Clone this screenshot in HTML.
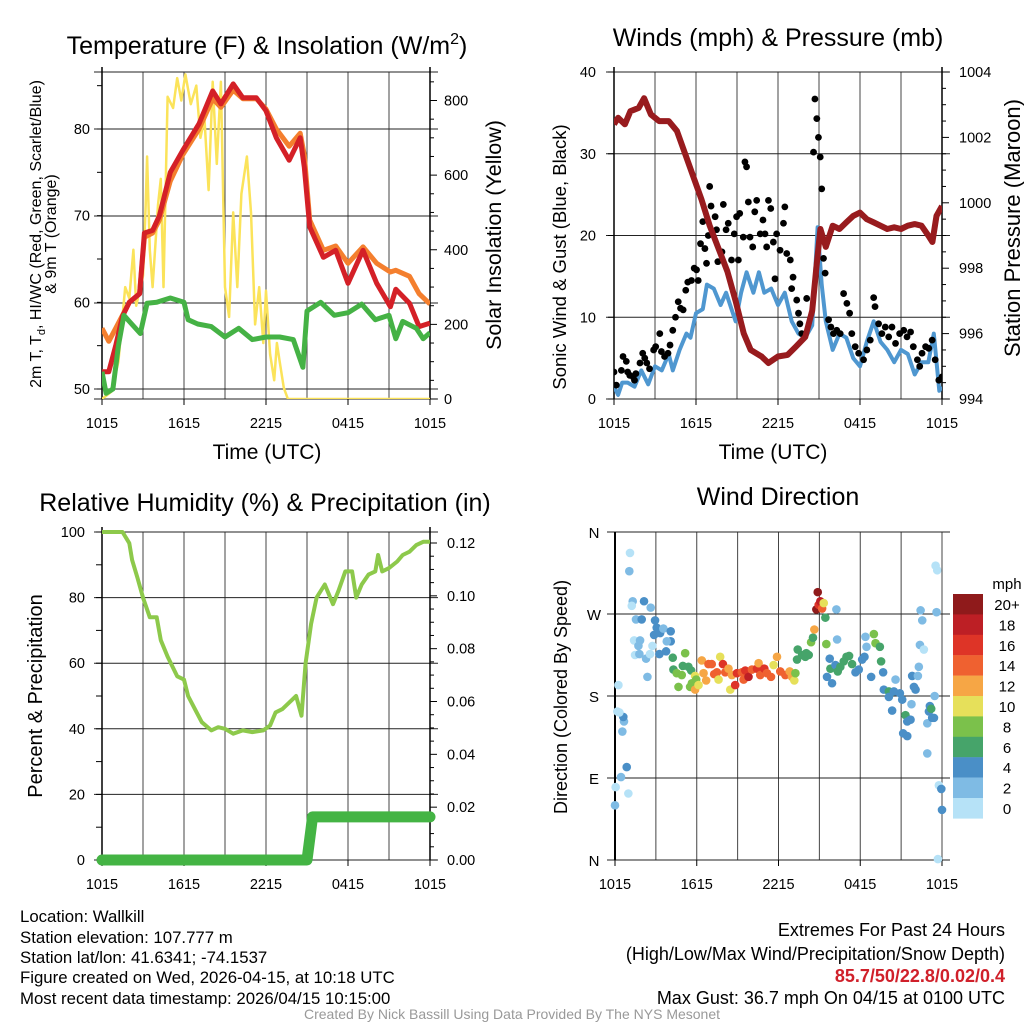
<!DOCTYPE html>
<html><head><meta charset="utf-8"><style>
body{margin:0;background:#fff;}
svg text{font-family:"Liberation Sans",Arial,sans-serif;fill:#000;}
</style></head><body>
<svg id="svg" width="1024" height="1024" viewBox="0 0 1024 1024" xmlns="http://www.w3.org/2000/svg">
<rect width="1024" height="1024" fill="#fff"/>
<g id="p1"></g>
<g id="p2"></g>
<g id="p3"></g>
<g id="p4"></g>
<text x="267" y="54" font-size="25" text-anchor="middle">Temperature (F) &amp; Insolation (W/m<tspan font-size="16" dy="-10">2</tspan><tspan dy="10">)</tspan></text>
<text x="778" y="46" font-size="25" text-anchor="middle">Winds (mph) &amp; Pressure (mb)</text>
<text x="265" y="511" font-size="25" text-anchor="middle">Relative Humidity (%) &amp; Precipitation (in)</text>
<text x="778" y="505" font-size="25" text-anchor="middle">Wind Direction</text>
<text x="267" y="459" font-size="21" text-anchor="middle">Time (UTC)</text>
<text x="773" y="459" font-size="21" text-anchor="middle">Time (UTC)</text>
<text transform="translate(41,234) rotate(-90)" font-size="16" text-anchor="middle">2m T, T<tspan font-size="11" dy="4">d</tspan><tspan dy="-4">, HI/WC (Red, Green, Scarlet/Blue)</tspan></text>
<text transform="translate(56,234) rotate(-90)" font-size="16" text-anchor="middle">&amp; 9m T (Orange)</text>
<text transform="translate(501,235) rotate(-90)" font-size="21.5" text-anchor="middle">Solar Insolation (Yellow)</text>
<text transform="translate(566,257) rotate(-90)" font-size="18.5" text-anchor="middle">Sonic Wind &amp; Gust (Blue, Black)</text>
<text transform="translate(1020,228) rotate(-90)" font-size="22" text-anchor="middle">Station Pressure (Maroon)</text>
<text transform="translate(42,696) rotate(-90)" font-size="20" text-anchor="middle">Percent &amp; Precipitation</text>
<text transform="translate(567,697) rotate(-90)" font-size="18" text-anchor="middle">Direction (Colored By Speed)</text>
<g font-size="16.8">
<text x="20" y="922">Location: Wallkill</text>
<text x="20" y="943">Station elevation: 107.777 m</text>
<text x="20" y="963">Station lat/lon: 41.6341; -74.1537</text>
<text x="20" y="983">Figure created on Wed, 2026-04-15, at 10:18 UTC</text>
<text x="20" y="1004">Most recent data timestamp: 2026/04/15 10:15:00</text>
</g>
<g font-size="18" text-anchor="end">
<text x="1005" y="936">Extremes For Past 24 Hours</text>
<text x="1005" y="960">(High/Low/Max Wind/Precipitation/Snow Depth)</text>
<text x="1005" y="982" font-weight="bold" style="fill:#d0202a">85.7/50/22.8/0.02/0.4</text>
<text x="1005" y="1004">Max Gust: 36.7 mph On 04/15 at 0100 UTC</text>
</g>
<text x="512" y="1019" font-size="14" text-anchor="middle" style="fill:#999">Created By Nick Bassill Using Data Provided By The NYS Mesonet</text>
</svg>
<script>
// ---- data ----
const xTickLabels = ["1015","1615","2215","0415","1015"];
const tempTimes = [0,0.5,1,1.5,2,2.75,3.1,3.7,4.2,5,5.9,7.1,8.1,8.7,9.6,10.3,11.3,12,12.75,13.7,14.5,14.8,15.2,16.2,17.1,18,19.1,20.1,21.1,21.5,22.5,23.2,24];
const tempRed = [52,52,55,58.4,60,61,68,68.3,70,75,77.5,80.6,84.4,82.9,85.2,83.6,83.6,82.1,79,76.4,79,75.6,68.7,65.2,66,62.2,66,62.2,59.5,61.5,59.9,57.2,57.6];
const temp9m = [57,55.5,57,58.5,60,61,67.5,68,69.5,74,77,80,83.5,82.5,84.5,83.5,83.5,82.3,80,78,79.5,77,69.5,66,66.5,64.5,66.4,64.5,63.5,63.7,63,61,59.8];
const dewTimes = [0,0.3,0.8,1.2,1.6,2,2.8,3.3,4,5,6,6.3,7,8,9,10,11,12,13,14,14.7,15,16,17,18,19,20,21,21.5,22,23,23.5,24];
const dewpoint = [52,49.5,50,55,58.5,57.8,56.4,59.9,60,60.5,60,58,57.5,57.2,56,57,55.7,56,56,55.7,52.5,59,60,58.5,58.8,59.8,58,58.5,55.8,57.8,57,55.8,56.5];
const solarTimes = [0,0.7,1.2,1.7,2,2.3,2.5,3,3.2,3.3,3.5,3.7,4.1,4.3,4.5,4.8,5.2,5.5,5.8,6.1,6.5,6.9,7.2,7.5,7.8,8.1,8.4,8.7,9,9.3,9.6,9.9,10.2,10.6,10.9,11.2,11.5,11.8,12,12.3,12.6,12.8,13,13.3,13.6,24];
const solar = [0,20,100,300,270,400,250,330,520,650,400,300,520,590,300,810,780,860,800,870,790,840,700,750,560,850,630,850,300,220,500,300,550,650,500,200,300,150,290,120,50,150,100,30,0,0];
const presTimes = [0,0.3,0.8,1.2,1.8,2.2,2.7,3.3,4,4.6,5.2,5.8,6.4,7,7.6,8.3,8.9,9.5,10,10.8,11.3,12,12.7,13.3,14,14.5,14.8,15.1,15.5,16,16.5,17,17.5,18,18.5,19,19.5,20,20.5,21,21.5,22,22.5,23,23.3,23.6,24];
const pressure = [1002.4,1002.6,1002.4,1002.8,1002.9,1003.2,1002.7,1002.5,1002.5,1002.2,1001.5,1000.8,1000.1,999.3,998.65,997.9,997,996,995.5,995.3,995.1,995.3,995.35,995.6,995.9,996.7,998,999.2,998.65,999.3,999.2,999.4,999.6,999.7,999.5,999.4,999.3,999.2,999.25,999.2,999.3,999.35,999.3,999.0,998.8,999.6,999.9];
const windTimes = [0,0.3,0.6,1,1.5,2,2.5,3,3.5,4,4.3,4.8,5.3,5.6,6,6.5,6.8,7.3,7.8,8.2,8.6,8.9,9.3,9.7,10.2,10.6,11,11.5,12,12.5,13,13.5,14,14.5,14.9,15.2,15.5,16,16.5,17,17.5,18,18.5,19,19.5,20,20.5,21,21.5,22,22.5,23,23.4,23.8,24];
const windSpeed = [1.5,0.5,2,2,1.5,3.5,1.8,4,3.5,5.5,3.5,6,8,7.5,10.5,11,14,13.5,11.5,13,11,9.5,13,15.5,13,15.5,13,13.5,11.5,13,9.5,8,7.5,9,21,14,9.5,6,8,7.5,5,4,7,9.5,7,6,4.5,6,5.5,3,4.5,4.5,8,1,1.5];
const gustTimes = [0,0.17,0.54,0.66,0.9,1.0,1.15,1.4,1.5,1.6,1.9,2.1,2.25,2.4,2.6,2.9,3.05,3.35,3.47,3.7,3.95,4.1,4.3,4.5,4.7,4.87,5.06,5.25,5.4,5.67,5.87,6.04,6.16,6.33,6.5,6.65,6.77,6.9,7.0,7.1,7.4,7.5,7.6,7.9,8.0,8.2,8.36,8.6,8.8,8.97,9.1,9.2,9.46,9.58,9.7,9.83,9.95,10.15,10.3,10.44,10.7,10.9,11.05,11.17,11.3,11.47,11.66,11.78,11.9,12.15,12.4,12.5,12.64,12.9,13.0,13.1,13.37,13.5,13.6,13.74,14.1,14.6,14.7,14.84,14.96,15.09,15.2,15.33,15.45,15.7,15.87,16.06,16.3,16.55,16.8,17.04,17.24,17.4,17.65,17.9,18.26,18.5,18.75,19.0,19.1,19.36,19.6,19.85,20.1,20.34,20.6,20.9,21.2,21.44,21.7,21.9,22.2,22.37,22.54,22.8,23.03,23.28,23.5,23.77,24];
const gusts = [3.3,1.7,3.5,5.2,4.6,3.3,2.9,2.7,2.3,3.1,4.4,5.6,5,4.4,3.7,6,6.4,8,5.8,5.2,5.6,6.6,8.4,10,11.9,11.1,10.9,13.3,14.3,14.5,16,15.8,14.5,19,21.7,18.4,16.6,20,26,23.6,22.3,20.7,16.8,18,23.8,20.7,21.5,17,20.2,22.3,17,22.7,19.8,29,28.4,24.1,19.8,18.6,22.9,24.3,20.2,21.9,20.2,18.6,24.3,23.3,19.2,14.7,20.2,18.2,21.5,23.5,17.8,17,13.5,14.9,12.1,10.5,9.2,8,12.3,30.2,36.7,34.3,32,29.6,25.7,17.2,15.4,9.7,8.8,8,8.4,8,12.9,11.7,10.5,8,6.4,5.6,4.8,6,7.2,12.4,11.3,9.2,8,8.8,7.6,8.8,6.8,8,8.4,7.6,8.2,6.4,4.8,4,5.6,6.4,6.2,7.2,4.8,2.3,2.7];
const rhTimes = [0,1.5,2,2.2,2.6,3,3.5,4,4.3,4.8,5.5,6,6.3,6.8,7.3,8,8.5,9,9.6,10.3,11,11.8,12.3,12.7,13.2,13.7,14.2,14.6,14.9,15.3,15.7,16.3,16.9,17.3,17.8,18.3,18.6,19,19.5,20,20.2,20.5,21,21.6,22,22.5,23,23.5,24];
const rh = [100,100,96.6,91.5,86,80,74,74,67,62,56,55,50,46,42,39.5,40.5,40,38.5,39.5,39,39.5,41,45,46,48,50,44,60,72,80,84,78,82,88,88,80,84,87,88,93,88,89,91,93,94,96,97,97];
const precipTimes = [0,15,15.3,15.4,24];
const precip = [0,0,0.012,0.0163,0.0163];
const dirTimes = [0,0.05,0.44,0.86,0.98,0.54,0.66,0.61,0.17,0.32,0.25,1.05,1.1,1.3,1.23,1.54,1.96,2.13,2.62,1.4,1.84,1.72,1.47,1.79,2.38,2.28,2.57,2.75,2.94,3.06,2.87,3.31,3.55,3.26,3.75,4.09,4.09,3.8,4.24,4.29,4.53,4.66,4.9,5.15,4.98,5.39,5.59,5.64,5.88,5.96,5.51,5.88,6.13,6.37,6.5,6.69,6.86,7.1,7.28,7.48,7.72,7.6,7.92,8.09,8.33,8.46,8.58,8.82,8.95,9.31,9.44,9.56,9.8,10.05,10.42,10.54,10.66,10.96,11.15,11.45,11.64,11.89,12.13,12.5,12.82,12.99,13.16,13.24,13.36,13.41,13.73,13.97,14.22,14.04,14.39,14.53,14.63,14.78,14.88,14.95,15.07,15.2,15.32,15.44,15.51,16.25,16.3,15.76,15.81,15.56,15.93,16.18,16.35,16.54,16.79,16.99,17.18,17.4,17.65,17.89,18.14,18.38,18.46,18.31,18.8,19.0,19.12,19.44,19.53,19.68,19.73,20.1,20.27,20.1,20.59,20.47,20.91,21.08,20.34,21.15,21.45,21.32,21.45,21.69,21.76,21.94,22.06,21.81,22.23,22.3,22.38,22.67,22.43,22.55,22.92,22.92,23.04,23.11,23.21,23.28,23.41,23.46,23.6,23.53,23.65,23.77,23.95,24.0,23.7];
const dirDegrees = [60,80,91,102,73,141,152,157,163,162,192,317,337,284,279,264,264,284,277,241,241,235,225,226,201,221,226,235,263,255,247,249,254,226,229,251,240,240,222,209,205,190,203,227,213,212,208,194,202,198,190,187,192,219,205,197,215,215,204,206,223,198,215,206,210,187,203,192,205,206,198,208,201,209,210,216,203,210,205,201,214,223,207,203,207,201,197,205,220,231,225,223,225,227,239,244,253,275,294,280,284,276,282,266,237,275,242,221,210,201,194,214,207,212,218,223,224,215,206,209,220,245,234,223,201,248,238,234,218,206,187,185,184,179,198,185,183,176,164,139,136,159,152,154,171,190,187,202,202,212,236,231,274,263,117,150,163,169,166,156,156,180,272,323,318,82,78,55,1];
const dirSpeeds = [3,1,3,5,1,3,3,5,1,1,1,3,1,3,1,3,5,5,3,1,3,3,1,3,3,3,1,1,5,5,5,5,3,5,5,5,5,3,7,7,9,9,9,9,7,7,7,9,11,9,9,13,11,13,13,13,15,15,15,15,11,11,17,15,13,11,13,17,17,15,15,17,19,15,17,13,15,17,15,15,11,13,15,15,13,13,11,9,7,7,7,7,7,7,9,7,13,21,21,17,19,15,11,7,9,3,3,5,7,5,5,5,7,7,7,7,7,7,5,5,5,3,3,5,5,9,9,7,7,5,5,7,7,5,3,5,5,5,5,5,5,7,5,5,3,5,5,5,3,3,3,1,3,3,3,3,5,5,7,5,5,3,3,1,1,1,5,5,1];
const speedBinLabels = ["0","2","4","6","8","10","12","14","16","18","20+"];
const speedBinColors = ["#b6e2f7","#7fbbe4","#4a8fc7","#46a46a","#7bc14b","#e6e05a","#f6a645","#ef6130","#de3427","#bd1f25","#8f1a1b"];
// ---- helpers ----
const NS="http://www.w3.org/2000/svg";
function mk(parent,tag,attrs){const e=document.createElementNS(NS,tag);for(const k in attrs)e.setAttribute(k,attrs[k]);parent.appendChild(e);return e;}
function lin(d0,d1,r0,r1){return v=>r0+(v-d0)*(r1-r0)/(d1-d0);}
function pathOf(ts,vs,sx,sy){return ts.map((t,i)=>(i?"L":"M")+sx(t).toFixed(1)+","+sy(vs[i]).toFixed(1)).join("");}
function frame(g,L,R,T,B,sx,hGrid,vGrid){
  vGrid.forEach(h=>{const l=mk(g,"line",{x1:sx(h),x2:sx(h),y1:T,y2:B,stroke:"#444","stroke-width":1});
    
    });
  hGrid.forEach(y=>{const l=mk(g,"line",{x1:L-8,x2:R+8,y1:y,y2:y,stroke:"#222","stroke-width":1});
    
    });
  xTickLabels.forEach((lab,i)=>{const x=sx(i*6);
    const t=mk(g,"text",{x:x,y:B+29,"font-size":14.5,"text-anchor":"middle"});t.textContent=lab;
    
    
    mk(g,"line",{x1:x,x2:x,y1:B,y2:B+6,stroke:"#000"});});
}
// ---- panel 1 ----
(function(){
const g=document.getElementById("p1");const L=102,R=430,T=72,B=399;
const sx=lin(0,24,L,R), sy=lin(50,80,389,129), sy2=lin(0,800,399,100.5);
frame(g,L,R,T,B,sx,[T,B,389,303,216,129],[0,3,6,9,12,15,18,21,24]);
mk(g,"line",{x1:L,x2:L,y1:T-5,y2:B,stroke:"#000","stroke-width":1.5});
mk(g,"line",{x1:R,x2:R,y1:T-5,y2:B,stroke:"#000","stroke-width":1.5});
[50,60,70,80].forEach(v=>{const t=mk(g,"text",{x:L-12,y:sy(v)+5,"font-size":14.5,"text-anchor":"end"});t.textContent=v;
 
 });
for(let v=50;v<=85;v+=5)mk(g,"line",{x1:L-5,x2:L,y1:sy(v),y2:sy(v),stroke:"#000"});
for(let v=0;v<=850;v+=50)mk(g,"line",{x1:R,x2:R+(v%200?4:7),y1:sy2(v),y2:sy2(v),stroke:"#000"});
[0,200,400,600,800].forEach(v=>{const t=mk(g,"text",{x:R+14,y:sy2(v)+5,"font-size":14.5});t.textContent=v;
 
 });
const clip=mk(g,"clipPath",{id:"c1"});mk(clip,"rect",{x:L,y:T,width:R-L,height:B-T});
const cg=mk(g,"g",{"clip-path":"url(#c1)"});
const s=mk(cg,"path",{d:pathOf(solarTimes,solar,sx,sy2),fill:"none",stroke:"#fbe35a","stroke-width":2.5,"stroke-linejoin":"round"});


const o=mk(cg,"path",{d:pathOf(tempTimes,temp9m,sx,sy),fill:"none",stroke:"#f47f2e","stroke-width":5,"stroke-linejoin":"round"});


const r=mk(cg,"path",{d:pathOf(tempTimes,tempRed,sx,sy),fill:"none",stroke:"#d42027","stroke-width":5,"stroke-linejoin":"round"});


const d=mk(cg,"path",{d:pathOf(dewTimes,dewpoint,sx,sy),fill:"none",stroke:"#45b245","stroke-width":5,"stroke-linejoin":"round"});


})();
// ---- panel 2 ----
(function(){
const g=document.getElementById("p2");const L=614,R=942,T=72,B=399;
const sx=lin(0,24,L,R), sy=lin(0,40,399,72), sy2=lin(994,1004,399,72);
frame(g,L,R,T,B,sx,[T,B,sy(10),sy(20),sy(30)],[0,3,6,9,12,15,18,21,24]);
mk(g,"line",{x1:L,x2:L,y1:T-5,y2:B,stroke:"#000","stroke-width":1.5});
mk(g,"line",{x1:R,x2:R,y1:T-5,y2:B,stroke:"#000","stroke-width":1.5});
[0,10,20,30,40].forEach(v=>{const t=mk(g,"text",{x:L-18,y:sy(v)+5,"font-size":14.5,"text-anchor":"end"});t.textContent=v;
 
 
 mk(g,"line",{x1:L-6,x2:L,y1:sy(v),y2:sy(v),stroke:"#000"});});
for(let v=994;v<=1004;v+=0.5)mk(g,"line",{x1:R,x2:R+(v%2?4:7),y1:sy2(v),y2:sy2(v),stroke:"#000"});
[994,996,998,1000,1002,1004].forEach(v=>{const t=mk(g,"text",{x:R+17,y:sy2(v)+5,"font-size":14.5});t.textContent=v;
 
 });
const clip=mk(g,"clipPath",{id:"c2"});mk(clip,"rect",{x:L,y:T,width:R-L,height:B-T});
const cg=mk(g,"g",{"clip-path":"url(#c2)"});
const w=mk(cg,"path",{d:pathOf(windTimes,windSpeed,sx,sy),fill:"none",stroke:"#4f97d0","stroke-width":4,"stroke-linejoin":"round"});


gustTimes.forEach((t,i)=>{const c=mk(cg,"circle",{cx:sx(t),cy:sy(gusts[i]),r:3.4,fill:"#000"});
 
 });
const p=mk(cg,"path",{d:pathOf(presTimes,pressure,sx,sy2),fill:"none",stroke:"#981b1e","stroke-width":6,"stroke-linejoin":"round"});


})();
// ---- panel 3 ----
(function(){
const g=document.getElementById("p3");const L=102,R=430,T=532,B=860;
const sx=lin(0,24,L,R), sy=lin(0,100,860,532), sy2=lin(0,0.12,860,543);
frame(g,L,R,T,B,sx,[T,B,sy(20),sy(40),sy(60),sy(80)],[0,3,6,9,12,15,18,21,24]);
mk(g,"line",{x1:L,x2:L,y1:T-5,y2:B,stroke:"#000","stroke-width":1.5});
mk(g,"line",{x1:R,x2:R,y1:T-5,y2:B,stroke:"#000","stroke-width":1.5});
[0,20,40,60,80,100].forEach(v=>{const t=mk(g,"text",{x:L-17,y:sy(v)+5,"font-size":14.5,"text-anchor":"end"});t.textContent=v;
 
 });
for(let v=0;v<=100;v+=10)mk(g,"line",{x1:L-6,x2:L,y1:sy(v),y2:sy(v),stroke:"#000"});
for(let i=0;i<=24;i++){const v=i*0.005;mk(g,"line",{x1:R,x2:R+(i%4?4:7),y1:sy2(v),y2:sy2(v),stroke:"#000"});}
[0,0.02,0.04,0.06,0.08,0.10,0.12].forEach(v=>{const t=mk(g,"text",{x:R+17,y:sy2(v)+5,"font-size":14.5});t.textContent=v.toFixed(2);
 
 });
const pr=mk(g,"path",{d:pathOf(precipTimes,precip,sx,sy2),fill:"none",stroke:"#44b444","stroke-width":11,"stroke-linecap":"round","stroke-linejoin":"round"});


const h=mk(g,"path",{d:pathOf(rhTimes,rh,sx,sy),fill:"none",stroke:"#8dc94b","stroke-width":4,"stroke-linejoin":"round"});


})();
// ---- panel 4 ----
(function(){
const g=document.getElementById("p4");const L=615,R=942,T=532,B=860;
const sx=lin(0,24,L,R), sy=lin(0,360,860,532);
const vg=[0,3,6,9,12,15,18,21,24];
frame(g,L,R,T,B,sx,[sy(0),sy(90),sy(180),sy(270),sy(360)],vg);
mk(g,"line",{x1:L,x2:L,y1:T,y2:B,stroke:"#000","stroke-width":2});
["N","E","S","W","N"].forEach((lab,i)=>{const t=mk(g,"text",{x:L-21,y:sy(i*90)+6,"font-size":15,"text-anchor":"middle"});t.textContent=lab;
 
 });
dirTimes.forEach((t,i)=>{const b=Math.min(10,Math.floor(dirSpeeds[i]/2));
 const c=mk(g,"circle",{cx:sx(t),cy:sy(dirDegrees[i]),r:4.3,fill:speedBinColors[b]});
 
 });
const lt=mk(g,"text",{x:1007,y:589,"font-size":15,"text-anchor":"middle"});lt.textContent="mph";


speedBinLabels.forEach((lab,i)=>{const k=10-i;const y=594+i*20.4;
 const r=mk(g,"rect",{x:953,y:y,width:30,height:20.6,fill:speedBinColors[k]});
 
 
 const t=mk(g,"text",{x:1007,y:y+16,"font-size":15,"text-anchor":"middle"});t.textContent=speedBinLabels[k];
 
 });
})();
</script>
</body></html>
